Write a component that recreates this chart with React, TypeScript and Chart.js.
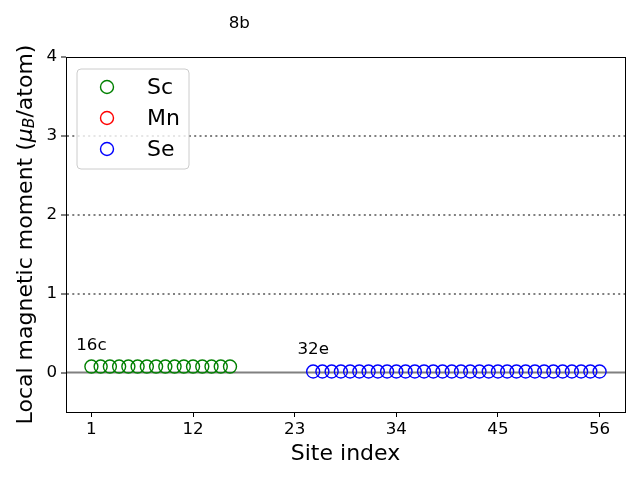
import React, { useEffect, useRef } from 'react';
import { Chart, registerables } from 'chart.js';

Chart.register(...registerables);

// ---- data ----
const scSites = [1, 2, 3, 4, 5, 6, 7, 8, 9, 10, 11, 12, 13, 14, 15, 16];
const scMoments = [0.076, 0.076, 0.076, 0.076, 0.076, 0.076, 0.076, 0.076, 0.076, 0.076, 0.076, 0.076, 0.076, 0.076, 0.076, 0.076];
const mnSites = [17, 18, 19, 20, 21, 22, 23, 24];
const mnMoments = [4.14, 4.14, 4.14, 4.14, 4.14, 4.14, 4.14, 4.14];
const seSites = [25, 26, 27, 28, 29, 30, 31, 32, 33, 34, 35, 36, 37, 38, 39, 40, 41, 42, 43, 44, 45, 46, 47, 48, 49, 50, 51, 52, 53, 54, 55, 56];
const seMoments = [0.013, 0.013, 0.013, 0.013, 0.013, 0.013, 0.013, 0.013, 0.013, 0.013, 0.013, 0.013, 0.013, 0.013, 0.013, 0.013, 0.013, 0.013, 0.013, 0.013, 0.013, 0.013, 0.013, 0.013, 0.013, 0.013, 0.013, 0.013, 0.013, 0.013, 0.013, 0.013];

const speciesNames = ['Sc', 'Mn', 'Se'];
const speciesColors = ['#008000', '#ff0000', '#0000ff'];

const wyckoffLabels = ['16c', '8b', '32e'];
const wyckoffX = [1, 17, 25];
const wyckoffY = [0.34, 4.42, 0.29];

const xTicks = [1, 12, 23, 34, 45, 56];
const yTicks = [0, 1, 2, 3, 4];
const xRange = [-1.75, 58.75];
const yRange = [-0.5, 4];
const zeroLineY = 0;

const FONT = 'DejaVu Sans';

const toPts = (xs: number[], ys: number[]) => xs.map((x, i) => ({ x, y: ys[i] }));

const framePlugin = {
  id: 'frame',
  afterDraw(chart: any) {
    const { ctx, chartArea: a, scales } = chart;
    ctx.save();
    // full box
    ctx.strokeStyle = '#000';
    ctx.lineWidth = 1;
    ctx.strokeRect(Math.round(a.left) + 0.5, Math.round(a.top) + 0.5, Math.round(a.right - a.left), Math.round(a.bottom - a.top));

    // wyckoff labels
    ctx.fillStyle = '#000';
    ctx.font = `16.7px ${FONT}`;
    ctx.textAlign = 'center';
    ctx.textBaseline = 'middle';
    wyckoffLabels.forEach((t, i) => {
      ctx.fillText(t, scales.x.getPixelForValue(wyckoffX[i]), scales.y.getPixelForValue(wyckoffY[i]));
    });

    // x title
    ctx.font = `22px ${FONT}`;
    ctx.fillText('Site index', (a.left + a.right) / 2, 454);

    // y title with subscript
    const parts = [
      { t: 'Local magnetic moment (', f: `22px ${FONT}`, dy: 0 },
      { t: 'μ', f: `italic 22px ${FONT}`, dy: 0 },
      { t: 'B', f: `italic 15.5px ${FONT}`, dy: 4 },
      { t: '/atom)', f: `22px ${FONT}`, dy: 0 },
    ];
    let total = 0;
    parts.forEach(p => { ctx.font = p.f; total += ctx.measureText(p.t).width; });
    ctx.translate(26, (a.top + a.bottom) / 2);
    ctx.rotate(-Math.PI / 2);
    ctx.textAlign = 'left';
    let x = -total / 2;
    parts.forEach(p => {
      ctx.font = p.f;
      ctx.fillText(p.t, x, p.dy);
      x += ctx.measureText(p.t).width;
    });
    ctx.setTransform(1, 0, 0, 1, 0, 0);

    // legend
    const bx = 77, by = 69, bw = 112, bh = 100, r = 4;
    ctx.beginPath();
    ctx.moveTo(bx + r, by);
    ctx.arcTo(bx + bw, by, bx + bw, by + bh, r);
    ctx.arcTo(bx + bw, by + bh, bx, by + bh, r);
    ctx.arcTo(bx, by + bh, bx, by, r);
    ctx.arcTo(bx, by, bx + bw, by, r);
    ctx.closePath();
    ctx.fillStyle = 'rgba(255,255,255,0.8)';
    ctx.fill();
    ctx.strokeStyle = '#cccccc';
    ctx.lineWidth = 1;
    ctx.stroke();
    ctx.font = `22px ${FONT}`;
    ctx.textBaseline = 'middle';
    speciesNames.forEach((n, i) => {
      const cy = 87 + i * 31;
      ctx.beginPath();
      ctx.arc(107, cy, 6.5, 0, Math.PI * 2);
      ctx.strokeStyle = speciesColors[i];
      ctx.lineWidth = 1.4;
      ctx.stroke();
      ctx.fillStyle = '#000';
      ctx.fillText(n, 147, cy + 1);
    });
    ctx.restore();
  },
};

export default function App() {
  const ref = useRef<HTMLCanvasElement>(null);
  useEffect(() => {
    const series = [
      toPts(scSites, scMoments),
      toPts(mnSites, mnMoments),
      toPts(seSites, seMoments),
    ];
    const chart = new Chart(ref.current as HTMLCanvasElement, {
      type: 'scatter',
      data: {
        datasets: [
          ...speciesNames.map((n, i) => ({
            type: 'scatter' as const,
            label: n,
            data: series[i],
            pointStyle: 'circle',
            pointRadius: 6.5,
            pointHoverRadius: 6.5,
            pointBorderWidth: 1.4,
            borderColor: speciesColors[i],
            backgroundColor: 'rgba(0,0,0,0)',
            clip: 0,
            order: 0,
          })),
          {
            type: 'line' as const,
            label: 'zero',
            data: [{ x: xRange[0], y: zeroLineY }, { x: xRange[1], y: zeroLineY }],
            borderColor: '#808080',
            borderWidth: 2,
            pointRadius: 0,
            order: 10,
          },
        ],
      },
      options: {
        responsive: false,
        animation: false,
        layout: { padding: { top: 57, right: 15, left: 0, bottom: 0 } },
        plugins: { legend: { display: false }, tooltip: { enabled: false } },
        scales: {
          x: {
            type: 'linear',
            min: xRange[0],
            max: xRange[1],
            afterBuildTicks: (s: any) => { s.ticks = xTicks.map(v => ({ value: v })); },
            afterFit: (s: any) => { s.height = 68; },
            ticks: { color: '#000', font: { family: FONT, size: 16.7 }, padding: 3, maxRotation: 0 },
            grid: { drawOnChartArea: false, color: '#000', tickColor: '#000', tickLength: 5, lineWidth: 1 },
            border: { display: true, color: '#000', width: 1 },
          },
          y: {
            type: 'linear',
            min: yRange[0],
            max: yRange[1],
            afterBuildTicks: (s: any) => { s.ticks = yTicks.map(v => ({ value: v })); },
            afterFit: (s: any) => { s.width = 66; },
            ticks: { color: '#000', font: { family: FONT, size: 16.7 }, padding: 4 },
            grid: {
              color: (c: any) => (c.tick && c.tick.value > 0 && c.tick.value < 4 ? '#808080' : 'rgba(0,0,0,0)'),
              tickColor: '#000',
              tickLength: 5,
              lineWidth: 2,
              tickWidth: 1,
              tickBorderDash: [],
            },
            border: { display: true, color: '#000', width: 1, dash: [2, 3.3] },
          },
        },
      },
      plugins: [framePlugin],
    } as any);
    return () => chart.destroy();
  }, []);
  return (
    <div style={{ position: 'fixed', left: 0, top: 0, width: 640, height: 480, background: '#fff' }}>
      <canvas ref={ref} width={640} height={480} style={{ display: 'block' }} />
    </div>
  );
}
